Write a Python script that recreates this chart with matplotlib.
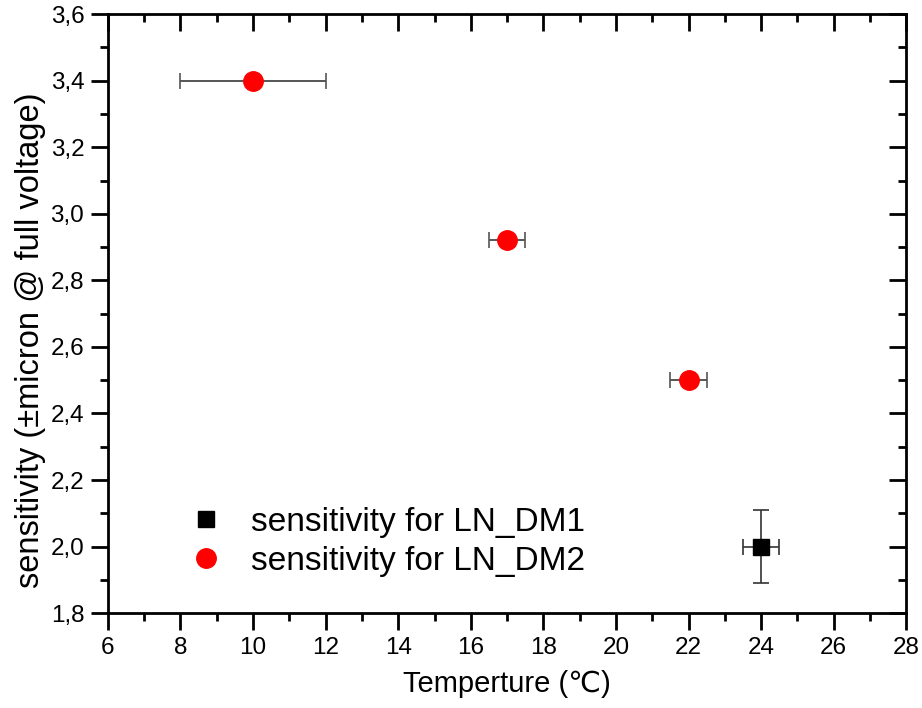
import matplotlib
matplotlib.use("Agg")
import matplotlib.pyplot as plt
from matplotlib.lines import Line2D
from matplotlib.ticker import MultipleLocator

plt.rcParams['font.family'] = ['Liberation Sans', 'DejaVu Sans']

# LN_DM1
dm1_temp = [24]
dm1_sens = [2.0]
dm1_xerr = [0.5]
dm1_yerr = [0.11]

# LN_DM2
dm2_temp = [10, 17, 22]
dm2_sens = [3.4, 2.92, 2.5]
dm2_xerr = [2.0, 0.5, 0.5]

fig = plt.figure(figsize=(9.22, 7.08), dpi=100)
ax = fig.add_axes([0.117, 0.134, 0.866, 0.846])

ax.errorbar(dm1_temp, dm1_sens, xerr=dm1_xerr, yerr=dm1_yerr, fmt='s', color='black',
            ms=12, ecolor='#333333', elinewidth=1.2, capsize=6, capthick=1.2, zorder=3)
ax.errorbar(dm2_temp, dm2_sens, xerr=dm2_xerr, fmt='o', color='red', mec='red',
            ms=14, ecolor='#555555', elinewidth=1.4, capsize=6, capthick=1.2, zorder=3)

ax.set_xlim(6, 28)
ax.set_ylim(1.8, 3.6)
ax.xaxis.set_major_locator(MultipleLocator(2))
ax.xaxis.set_minor_locator(MultipleLocator(1))
ax.yaxis.set_major_locator(MultipleLocator(0.2))
ax.yaxis.set_minor_locator(MultipleLocator(0.1))
yt = ax.get_yticks()
ax.set_yticks(yt)
ax.set_yticklabels([f'{t:.1f}'.replace('.', ',') for t in yt])
ax.set_ylim(1.8, 3.6)

for s in ax.spines.values():
    s.set_linewidth(2)
ax.tick_params(which='both', direction='out', width=2, labelsize=17.5)
ax.tick_params(which='major', length=12, pad=5)
ax.tick_params(which='minor', length=6)

# mirrored inward ticks on top and right
axt = ax.secondary_xaxis('top')
axt.xaxis.set_major_locator(MultipleLocator(2))
axt.xaxis.set_minor_locator(MultipleLocator(1))
axt.tick_params(which='both', direction='in', width=2, labeltop=False)
axt.tick_params(which='major', length=12)
axt.tick_params(which='minor', length=6)
axr = ax.secondary_yaxis('right')
axr.yaxis.set_major_locator(MultipleLocator(0.2))
axr.yaxis.set_minor_locator(MultipleLocator(0.1))
axr.tick_params(which='both', direction='in', width=2, labelright=False)
axr.tick_params(which='major', length=12)
axr.tick_params(which='minor', length=6)

ax.set_xlabel('Temperture (\u2103)', fontsize=21, labelpad=8)
ax.set_ylabel('sensitivity (\u00b1micron @ full voltage)', fontsize=23.5)
ax.yaxis.set_label_coords(-0.077, 0.455)

handles = [Line2D([], [], marker='s', color='black', ls='none', ms=12),
           Line2D([], [], marker='o', color='red', ls='none', ms=14)]
labels = ['sensitivity for LN_DM1', 'sensitivity for LN_DM2']
ax.legend(handles, labels, loc='lower left', bbox_to_anchor=(0.064, 0.01), frameon=False,
          fontsize=24, handlelength=1.0, handletextpad=0.85, labelspacing=0.25)

fig.savefig('out.png', dpi=100)
